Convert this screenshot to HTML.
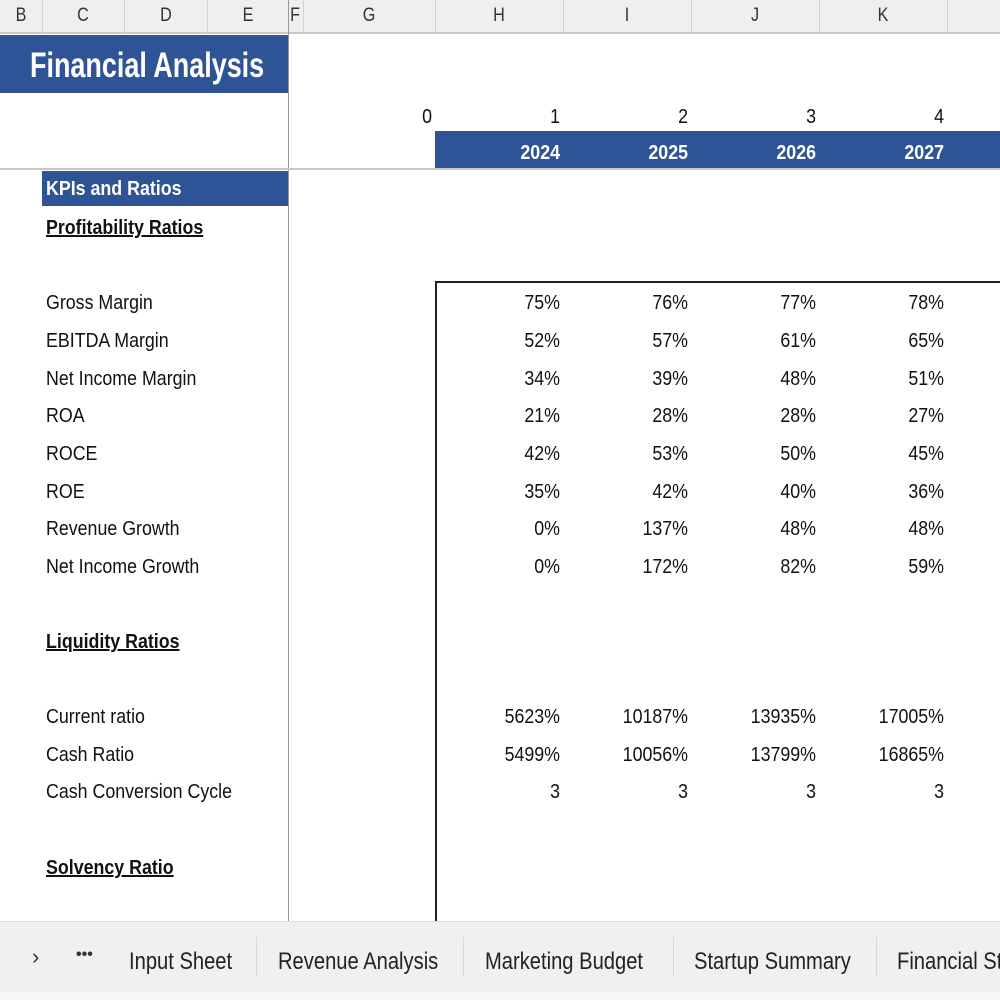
<!DOCTYPE html>
<html><head><meta charset="utf-8"><style>
*{margin:0;padding:0;box-sizing:border-box}
html,body{width:1000px;height:1000px;overflow:hidden}
body{background:#fff;position:relative;font-family:"Liberation Sans Narrow","Liberation Sans",sans-serif;color:#111}
.a{position:absolute;white-space:nowrap}
.hdr{position:absolute;top:0;left:0;width:1000px;height:34px;background:#efefef;border-bottom:2px solid #c8c8c8}
.hdr span{position:absolute;top:5px;font-size:19px;color:#333;transform:translateX(-50%) scaleX(0.85)}
.sep{position:absolute;top:0;height:34px;width:1px;background:#d4d4d4}
.lbl{position:absolute;left:46px;font-size:20px;margin-top:3px;white-space:nowrap;transform:scaleX(0.89);transform-origin:left}
.num{position:absolute;font-size:20px;margin-top:3px;text-align:right;width:120px;white-space:nowrap;transform:scaleX(0.89);transform-origin:right}
.u{font-weight:bold;text-decoration:underline}
.tab{position:absolute;top:948px;font-size:24px;color:#222;white-space:nowrap;transform:scaleX(0.84);transform-origin:left}
</style></head><body>
<div class="hdr">
<span style="left:21px">B</span><span style="left:83px">C</span><span style="left:166px">D</span><span style="left:248px">E</span><span style="left:295px">F</span><span style="left:369px">G</span><span style="left:499px">H</span><span style="left:627px">I</span><span style="left:755px">J</span><span style="left:883px">K</span>
<div class="sep" style="left:42px"></div><div class="sep" style="left:124px"></div><div class="sep" style="left:207px"></div><div class="sep" style="left:288px;background:#999"></div><div class="sep" style="left:303px"></div><div class="sep" style="left:435px"></div><div class="sep" style="left:563px"></div><div class="sep" style="left:691px"></div><div class="sep" style="left:819px"></div><div class="sep" style="left:947px"></div>
</div>
<div class="a" style="left:0;top:35px;width:288px;height:58px;background:#2f5496"></div>
<div class="a" style="left:30px;top:46px;font-size:35px;font-weight:bold;color:#fff;transform:scaleX(0.77);transform-origin:left">Financial Analysis</div>
<div class="a" style="left:288px;top:34px;width:1px;height:888px;background:#999"></div>
<div class="a" style="left:0;top:168px;width:1000px;height:2px;background:#c8c8c8"></div>
<div class="num" style="left:312px;top:103px">0</div>
<div class="num" style="left:440px;top:103px">1</div>
<div class="num" style="left:568px;top:103px">2</div>
<div class="num" style="left:696px;top:103px">3</div>
<div class="num" style="left:824px;top:103px">4</div>
<div class="a" style="left:435px;top:131px;width:565px;height:37px;background:#2f5496"></div>
<div class="num" style="left:440px;top:139px;color:#fff;font-weight:bold">2024</div>
<div class="num" style="left:568px;top:139px;color:#fff;font-weight:bold">2025</div>
<div class="num" style="left:696px;top:139px;color:#fff;font-weight:bold">2026</div>
<div class="num" style="left:824px;top:139px;color:#fff;font-weight:bold">2027</div>
<div class="a" style="left:42px;top:171px;width:246px;height:35px;background:#2f5496"></div>
<div class="lbl" style="top:175px;color:#fff;font-weight:bold">KPIs and Ratios</div>
<div class="lbl u" style="top:214px">Profitability Ratios</div>
<div class="a" style="left:435px;top:281px;width:565px;height:2px;background:#222"></div>
<div class="a" style="left:435px;top:281px;width:2px;height:641px;background:#222"></div>
<div class="lbl" style="top:289px">Gross Margin</div>
<div class="lbl" style="top:327px">EBITDA Margin</div>
<div class="lbl" style="top:365px">Net Income Margin</div>
<div class="lbl" style="top:402px">ROA</div>
<div class="lbl" style="top:440px">ROCE</div>
<div class="lbl" style="top:478px">ROE</div>
<div class="lbl" style="top:515px">Revenue Growth</div>
<div class="lbl" style="top:553px">Net Income Growth</div>
<div class="lbl u" style="top:628px">Liquidity Ratios</div>
<div class="lbl" style="top:703px">Current ratio</div>
<div class="lbl" style="top:741px">Cash Ratio</div>
<div class="lbl" style="top:778px">Cash Conversion Cycle</div>
<div class="lbl u" style="top:854px">Solvency Ratio</div>

<div class="num" style="left:440px;top:289px">75%</div><div class="num" style="left:568px;top:289px">76%</div><div class="num" style="left:696px;top:289px">77%</div><div class="num" style="left:824px;top:289px">78%</div>
<div class="num" style="left:440px;top:327px">52%</div><div class="num" style="left:568px;top:327px">57%</div><div class="num" style="left:696px;top:327px">61%</div><div class="num" style="left:824px;top:327px">65%</div>
<div class="num" style="left:440px;top:365px">34%</div><div class="num" style="left:568px;top:365px">39%</div><div class="num" style="left:696px;top:365px">48%</div><div class="num" style="left:824px;top:365px">51%</div>
<div class="num" style="left:440px;top:402px">21%</div><div class="num" style="left:568px;top:402px">28%</div><div class="num" style="left:696px;top:402px">28%</div><div class="num" style="left:824px;top:402px">27%</div>
<div class="num" style="left:440px;top:440px">42%</div><div class="num" style="left:568px;top:440px">53%</div><div class="num" style="left:696px;top:440px">50%</div><div class="num" style="left:824px;top:440px">45%</div>
<div class="num" style="left:440px;top:478px">35%</div><div class="num" style="left:568px;top:478px">42%</div><div class="num" style="left:696px;top:478px">40%</div><div class="num" style="left:824px;top:478px">36%</div>
<div class="num" style="left:440px;top:515px">0%</div><div class="num" style="left:568px;top:515px">137%</div><div class="num" style="left:696px;top:515px">48%</div><div class="num" style="left:824px;top:515px">48%</div>
<div class="num" style="left:440px;top:553px">0%</div><div class="num" style="left:568px;top:553px">172%</div><div class="num" style="left:696px;top:553px">82%</div><div class="num" style="left:824px;top:553px">59%</div>
<div class="num" style="left:440px;top:703px">5623%</div><div class="num" style="left:568px;top:703px">10187%</div><div class="num" style="left:696px;top:703px">13935%</div><div class="num" style="left:824px;top:703px">17005%</div>
<div class="num" style="left:440px;top:741px">5499%</div><div class="num" style="left:568px;top:741px">10056%</div><div class="num" style="left:696px;top:741px">13799%</div><div class="num" style="left:824px;top:741px">16865%</div>
<div class="num" style="left:440px;top:778px">3</div><div class="num" style="left:568px;top:778px">3</div><div class="num" style="left:696px;top:778px">3</div><div class="num" style="left:824px;top:778px">3</div>

<div class="a" style="left:0;top:921px;width:1000px;height:71px;background:#f0f0f0;border-top:1px solid #ddd"></div>
<div class="a" style="left:0;top:992px;width:1000px;height:8px;background:#f7f7f7"></div>
<div class="a" style="left:32px;top:944px;font-size:22px;color:#333">›</div>
<div class="a" style="left:76px;top:946px;font-size:16px;font-weight:bold;color:#333">•••</div>
<div class="a" style="left:256px;top:937px;width:1px;height:40px;background:#d8d8d8"></div>
<div class="a" style="left:463px;top:937px;width:1px;height:40px;background:#d8d8d8"></div>
<div class="a" style="left:673px;top:937px;width:1px;height:40px;background:#d8d8d8"></div>
<div class="a" style="left:876px;top:937px;width:1px;height:40px;background:#d8d8d8"></div>
<div class="tab" style="left:129px">Input Sheet</div>
<div class="tab" style="left:278px">Revenue Analysis</div>
<div class="tab" style="left:485px">Marketing Budget</div>
<div class="tab" style="left:694px">Startup Summary</div>
<div class="a" style="left:897px;top:921px;width:103px;height:71px;overflow:hidden"><div class="tab" style="left:0;top:27px">Financial Statements</div></div>
</body></html>
